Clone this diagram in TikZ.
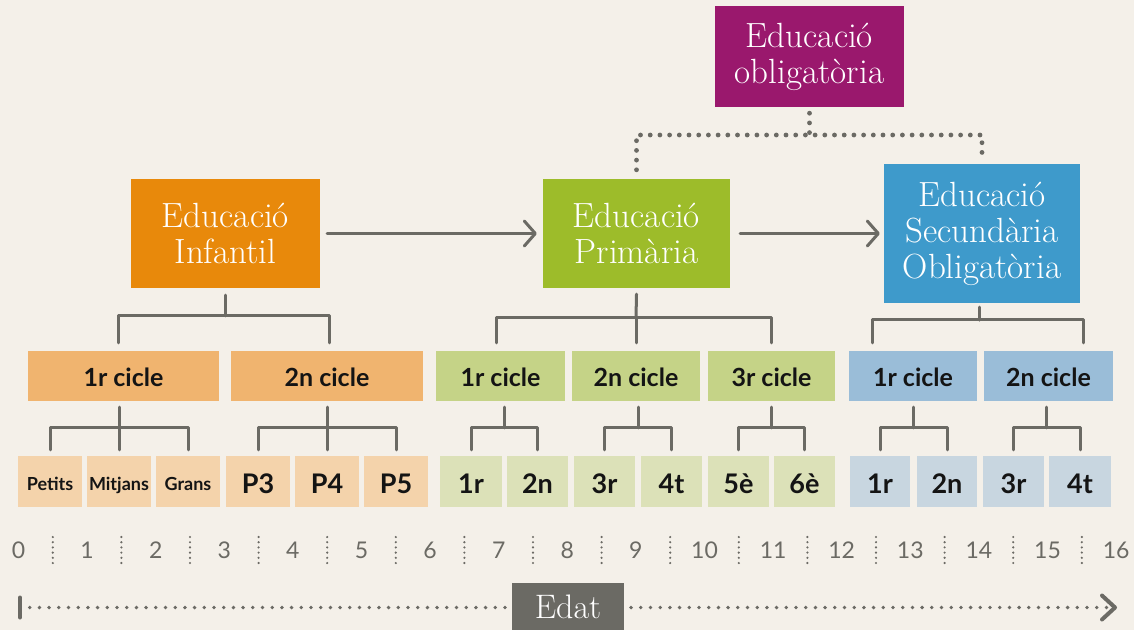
\documentclass[tikz,border=0pt]{standalone}
\usepackage{fontspec}
\newfontfamily\lato{Lato}
\usetikzlibrary{arrows.meta,calc}
\definecolor{bg}{HTML}{F4F0E9}
\definecolor{gr}{HTML}{6B6A64}
\definecolor{mag}{HTML}{9A186D}
\definecolor{ora}{HTML}{E8890B}
\definecolor{grn}{HTML}{9DBC2A}
\definecolor{blu}{HTML}{3E9ACB}
\definecolor{icyc}{HTML}{F0B46F}
\definecolor{ilt}{HTML}{F4D3AB}
\definecolor{pcyc}{HTML}{C5D387}
\definecolor{plt}{HTML}{DCE1B8}
\definecolor{scyc}{HTML}{9ABDD8}
\definecolor{slt}{HTML}{C8D6E0}
\begin{document}
\begin{tikzpicture}[x=1pt,y=-1pt,
  title/.style={inner sep=0pt, text=white, align=center, font=\fontsize{35}{36}\selectfont},
  cyc/.style={inner sep=0pt, minimum height=50pt, text height=22pt, text depth=2pt, text=black!92, font=\lato\bfseries\fontsize{25}{28}\selectfont},
  bb/.style={inner sep=0pt, minimum height=51pt, text height=24pt, text depth=1pt, text=black!92, font=\lato\bfseries\fontsize{27}{30}\selectfont},
  sm/.style={text height=18pt, text depth=1pt, font=\lato\bfseries\fontsize{18}{20}\selectfont},
  num/.style={inner sep=0pt, text=gr, font=\lato\fontsize{23}{26}\selectfont},
  conn/.style={draw=gr, line width=3pt, line cap=round, line join=round},
  dots/.style={draw=gr, line width=4.8pt, line cap=round, dash pattern=on 0pt off 9.7pt},
  sdots/.style={draw=gr, line width=2.4pt, line cap=round, dash pattern=on 0pt off 5.2pt}]
\fill[bg] (0,0) rectangle (1134,630);
\useasboundingbox (0,0) rectangle (1134,630);

% main boxes
\node[title, fill=mag, minimum width=189pt, minimum height=101pt] (OB) at (809.5,56.5) {Educació\\obligatòria};
\node[title, fill=ora, minimum width=189pt, minimum height=109pt] (EI) at (225.5,233.5) {Educació\\Infantil};
\node[title, fill=grn, minimum width=187pt, minimum height=109pt] (EP) at (636.5,233.5) {Educació\\Primària};
\node[title, fill=blu, minimum width=196pt, minimum height=139pt] (ES) at (982,233.5) {Educació\\Secundària\\Obligatòria};

% cycles
\node[cyc, fill=icyc, minimum width=191pt] (I1) at (123.5,376) {1r cicle};
\node[cyc, fill=icyc, minimum width=192pt] (I2) at (327,376) {2n cicle};
\node[cyc, fill=pcyc, minimum width=129pt] (P1) at (500.5,376) {1r cicle};
\node[cyc, fill=pcyc, minimum width=128pt] (P2) at (636,376) {2n cicle};
\node[cyc, fill=pcyc, minimum width=127pt] (P3) at (771.5,376) {3r cicle};
\node[cyc, fill=scyc, minimum width=128pt] (S1) at (913,376) {1r cicle};
\node[cyc, fill=scyc, minimum width=129pt] (S2) at (1048.5,376) {2n cicle};

% bottom boxes
\node[bb, sm, fill=ilt, minimum width=64pt] (b1) at (50,481.5) {Petits};
\node[bb, sm, fill=ilt, minimum width=64pt] (b2) at (119,481.5) {Mitjans};
\node[bb, sm, fill=ilt, minimum width=64pt] (b3) at (188,481.5) {Grans};
\node[bb, fill=ilt, minimum width=64pt] (b4) at (258,481.5) {P3};
\node[bb, fill=ilt, minimum width=64pt] (b5) at (327,481.5) {P4};
\node[bb, fill=ilt, minimum width=64pt] (b6) at (396,481.5) {P5};
\node[bb, fill=plt, minimum width=62pt] (b7) at (471,481.5) {1r};
\node[bb, fill=plt, minimum width=61pt] (b8) at (537.5,481.5) {2n};
\node[bb, fill=plt, minimum width=61pt] (b9) at (604.5,481.5) {3r};
\node[bb, fill=plt, minimum width=61pt] (b10) at (671.5,481.5) {4t};
\node[bb, fill=plt, minimum width=61pt] (b11) at (738.5,481.5) {5è};
\node[bb, fill=plt, minimum width=61pt] (b12) at (804.5,481.5) {6è};
\node[bb, fill=slt, minimum width=60pt] (b13) at (880,481.5) {1r};
\node[bb, fill=slt, minimum width=60pt] (b14) at (947,481.5) {2n};
\node[bb, fill=slt, minimum width=61pt] (b15) at (1013.5,481.5) {3r};
\node[bb, fill=slt, minimum width=62pt] (b16) at (1080,481.5) {4t};

% dotted links from obligatoria
\coordinate (ob) at (0,135);
\draw[dots] ([yshift=-6pt]OB.south) -- (OB.south |- ob);
\draw[dots] ([yshift=9pt]EP.north) -- (EP.north |- ob) -- (ES.north |- ob) -- ([yshift=9pt]ES.north);

% arrows between stages
\draw[conn, -{Straight Barb[length=11pt, width=25pt, round]}] ([xshift=7pt]EI.east) -- ([xshift=-6pt]EP.west);
\draw[conn, -{Straight Barb[length=11pt, width=25pt, round]}] ([xshift=10pt]EP.east) -- ([xshift=-4pt]ES.west);

% brackets stage -> cycles
\draw[conn] ([yshift=-7pt]EI.south) -- ([yshift=35pt]I1.north -| EI.south);
\draw[conn] ([xshift=-5pt,yshift=8pt]I1.north) -- ([xshift=-5pt,yshift=35pt]I1.north) -- ([xshift=2pt,yshift=35pt]I2.north) -- ([xshift=2pt,yshift=8pt]I2.north);

\draw[conn] ([yshift=-6pt]EP.south) -- ([yshift=33pt]P2.north);
\draw[conn] ([xshift=-4pt,yshift=8pt]P1.north) -- ([xshift=-4pt,yshift=33pt]P1.north) -- ([yshift=33pt]P3.north) -- ([yshift=8pt]P3.north);
\draw[conn] ([yshift=8pt]P2.north) -- ([yshift=33pt]P2.north);

\draw[conn] ([xshift=-3pt,yshift=-4pt]ES.south) -- ([xshift=-3pt,yshift=-17pt]ES.south);
\draw[conn] ([xshift=-41pt,yshift=8pt]S1.north) -- ([xshift=-41pt,yshift=31pt]S1.north) -- ([xshift=35pt,yshift=31pt]S2.north) -- ([xshift=35pt,yshift=8pt]S2.north);

% brackets cycles -> years
\draw[conn] ([yshift=-6pt]I1.south -| b2.north) -- ([yshift=28pt]b2.north);
\draw[conn] ([yshift=6pt]b1.north) -- ([yshift=28pt]b1.north) -- ([yshift=28pt]b3.north) -- ([yshift=6pt]b3.north);
\draw[conn] ([yshift=6pt]b2.north) -- ([yshift=28pt]b2.north);

\draw[conn] ([yshift=-6pt]I2.south -| b5.north) -- ([yshift=28pt]b5.north);
\draw[conn] ([yshift=6pt]b4.north) -- ([yshift=28pt]b4.north) -- ([yshift=28pt]b6.north) -- ([yshift=6pt]b6.north);
\draw[conn] ([yshift=6pt]b5.north) -- ([yshift=28pt]b5.north);

\foreach \c/\l/\r in {P1/b7/b8, P2/b9/b10, P3/b11/b12, S1/b13/b14, S2/b15/b16}{
  \coordinate (m) at ($(\l.north)!0.5!(\r.north)$);
  \draw[conn] ([yshift=-6pt]\c.south -| m) -- ([yshift=28pt]m);
  \draw[conn] ([yshift=6pt]\l.north) -- ([yshift=28pt]\l.north) -- ([yshift=28pt]\r.north) -- ([yshift=6pt]\r.north);
}

% age scale
\foreach \i in {0,...,16}{
  \node[num] (a\i) at (18.5+68.6*\i,550) {\i};
}
\foreach \i [evaluate=\i as \j using int(\i+1)] in {0,...,15}{
  \coordinate (s\i) at ($(a\i)!0.5!(a\j)$);
  \draw[sdots] ([yshift=13pt]s\i) -- ([yshift=-13pt]s\i);
}

% time axis
\coordinate (st) at (20,607.5);
\coordinate (en) at (1115,607.5);
\draw[dots, line width=3.8pt] ([xshift=9.7pt]st) -- ([xshift=-8pt]en);
\draw[conn, line width=4pt] ([yshift=10pt]st) -- ([yshift=-10pt]st);
\draw[conn, line width=4pt] ([shift={(-13pt,12pt)}]en) -- (en) -- ([shift={(-13pt,-12pt)}]en);
\node[inner sep=0pt, fill=gr, text=white, minimum width=112pt, minimum height=47pt, font=\fontsize{34}{36}\selectfont] (ED) at (568,606.5) {Edat};
\end{tikzpicture}
\end{document}
